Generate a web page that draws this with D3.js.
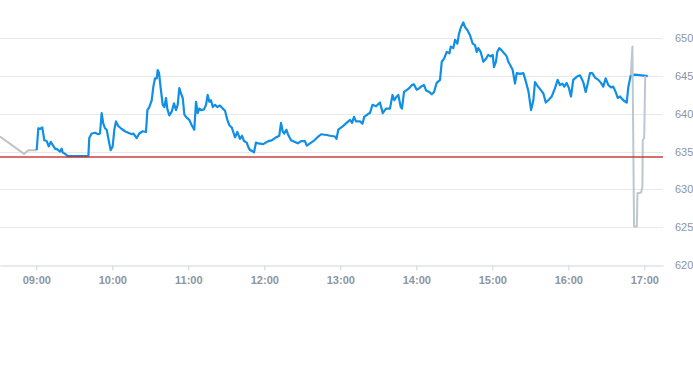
<!DOCTYPE html>
<html>
<head>
<meta charset="utf-8">
<script src="https://cdn.jsdelivr.net/npm/d3@7"></script>
<style>
html,body{margin:0;padding:0;background:#fff;}
svg{display:block;font-family:"Liberation Sans",Arial,sans-serif;}
</style>
</head>
<body>
<svg id="chart" width="693" height="365"></svg>
<script>
// minutes after 09:00 and price
const preMinutes = [-28.7, -9.7, -6.3, -1.0, 0.3];
const prePrices  = [637.0, 634.7, 635.2, 635.2, 635.2];

const mainMinutes = [0.3,1.6,2.9,4.7,5.5,6.3,8.2,9.8,11.4,12.9,14.8,16.6,18.7,20.1,20.8,22.7,24.8,41.1,41.8,43.7,46.3,48.9,50.3,51.6,52.9,54.2,55.6,56.8,58.7,60.3,61.6,62.9,64.7,67.4,70.0,72.6,75.3,76.6,79.3,81.3,84.0,86.6,87.7,89.2,91.1,92.4,93.7,95.1,95.8,96.9,98.2,99.8,101.1,102.4,103.4,105.0,106.9,108.7,110.3,111.6,112.9,114.2,115.6,116.9,118.7,120.8,122.7,124.7,126.1,127.4,128.7,130.0,132.4,134.0,135.3,136.6,137.9,139.3,141.1,142.9,145.0,147.2,149.0,150.8,152.4,154.3,155.5,156.9,158.7,160.8,162.4,164.0,166.1,167.4,168.7,170.3,171.9,173.4,175.3,179.2,183.2,185.8,188.4,191.8,193.2,194.5,195.8,197.4,198.9,201.1,203.7,206.4,209.0,212.1,213.5,216.1,219.5,222.6,224.8,229.3,231.9,235.8,237.0,238.4,241.6,244.3,246.3,247.7,249.3,250.8,252.4,255.6,257.5,258.9,262.1,263.4,265.4,268.2,271.3,273.5,276.1,279.2,281.2,282.6,284.0,285.8,287.7,288.7,290.3,293.7,296.4,298.2,300.3,302.4,304.5,306.1,307.7,310.3,312.2,314.0,316.1,318.7,320.1,321.9,324.0,326.1,327.2,329.2,330.6,332.4,333.7,335.3,337.1,338.4,340.3,342.4,344.5,346.3,347.7,348.9,350.8,352.9,355.0,356.8,358.7,360.3,361.3,362.9,363.9,365.5,367.4,370.0,371.4,372.6,374.0,376.1,377.9,379.3,381.9,384.5,385.8,388.5,390.6,392.4,393.7,395.7,398.5,400.3,402.2,404.2,406.9,409.5,411.6,413.4,415.3,416.8,418.7,420.5,422.1,423.9,426.6,429.2,431.8,433.7,435.3,437.1,438.9,441.1,443.7,445.8,447.6,449.5,451.6,453.7,455.5,457.4,459.0,460.8,463.4,466.1,467.4,469.3,472.7,478.0,482.7];
const mainPrices = [635.2,638.1,638.0,638.2,637.4,636.5,636.4,635.7,636.3,635.9,635.4,635.3,635.0,635.4,634.9,634.7,634.4,634.4,636.8,637.4,637.5,637.3,637.4,640.1,638.7,638.1,637.9,636.8,635.2,635.7,637.9,639.0,638.4,638.0,637.7,637.5,637.3,637.4,636.8,637.4,637.7,637.6,640.5,640.9,641.8,643.6,644.7,644.7,645.8,645.4,643.4,641.2,640.9,642.1,640.7,639.8,640.3,641.4,640.5,641.2,643.4,642.7,642.1,639.9,639.5,639.2,638.5,637.9,641.6,640.1,640.7,640.5,640.6,641.2,642.5,641.6,641.8,640.9,641.2,640.9,641.1,640.7,640.4,639.2,638.5,638.2,637.6,636.9,637.6,636.7,637.1,636.4,636.2,635.6,635.2,635.1,634.9,636.2,636.1,636.0,636.4,636.5,636.8,637.1,638.8,637.7,637.4,637.9,637.2,636.5,636.3,636.1,636.4,636.4,635.8,636.1,636.5,637.0,637.3,637.2,637.1,637.0,636.7,637.9,638.3,638.7,639.0,639.2,638.8,639.6,639.0,639.0,638.7,639.6,640.0,640.1,641.2,641.0,641.5,640.1,640.7,640.7,642.5,641.8,642.2,642.5,640.9,640.7,642.9,643.3,643.8,643.9,643.2,643.4,643.7,643.8,643.1,642.9,642.6,642.9,644.1,644.5,646.9,647.3,648.2,648.0,648.9,648.7,649.8,649.3,650.6,651.5,652.1,651.5,651.1,650.4,649.3,649.1,648.2,648.7,648.2,646.9,647.3,647.8,647.6,647.8,646.2,646.9,648.2,648.7,648.4,647.9,647.6,646.9,646.5,645.8,644.0,645.4,645.3,645.4,644.7,643.0,640.5,641.8,644.2,643.7,643.1,642.7,641.5,641.8,642.3,643.4,644.5,643.8,644.0,643.6,644.1,643.4,642.3,644.5,644.9,645.1,644.2,642.9,644.0,645.4,645.4,644.8,644.5,644.1,643.6,644.7,643.8,643.5,643.6,642.9,642.1,642.3,641.8,641.5,643.6,645.1,645.2,645.1,645.0];

const postMinutes = [469.3, 470.6, 471.9, 474.1, 474.6, 477.5, 478.5, 478.8, 479.9, 480.7];
const postPrices  = [645.1, 648.9, 625.1, 625.1, 629.5, 629.6, 630.4, 636.5, 636.8, 645.0];

const previousClose = 634.3;
const yTicks = [620, 625, 630, 635, 640, 645, 650];
const xTickLabels = ["09:00","10:00","11:00","12:00","13:00","14:00","15:00","16:00","17:00"];

const base = new Date(2024, 0, 2, 9, 0, 0);
const toDate = m => new Date(base.getTime() + m * 60000);
const parseHM = d3.timeParse("%H:%M");
const hm = s => { const p = parseHM(s); return new Date(2024, 0, 2, p.getHours(), p.getMinutes()); };

const svg = d3.select("#chart");
const plotW = 663, plotTop = 38.3, plotBottom = 265;

const x = d3.scaleTime()
  .domain([toDate(-28.66), toDate(494.75)])
  .range([0, plotW]);
const y = d3.scaleLinear().domain([620, 650]).range([plotBottom, plotTop]);

// grid lines
svg.append("g").selectAll("line").data(yTicks.filter(v => v !== 620)).join("line")
  .attr("x1", 0).attr("x2", plotW)
  .attr("y1", d => Math.round(y(d)) + 0.5).attr("y2", d => Math.round(y(d)) + 0.5)
  .attr("stroke", "#e6e8eb").attr("stroke-width", 1);

// x axis
const xAxis = d3.axisBottom(x)
  .tickValues(xTickLabels.map(hm))
  .tickFormat(d3.timeFormat("%H:%M"))
  .tickSize(5).tickSizeOuter(0).tickPadding(6);
const gx = svg.append("g").attr("transform", `translate(0,${Math.round(plotBottom) + 0.5})`).call(xAxis);
gx.select(".domain").attr("stroke", "#ccd6e0");
gx.selectAll(".tick line").attr("stroke", "#ccd6e0");
gx.selectAll(".tick text").attr("fill", "#8b95a3").attr("font-size", 11).attr("font-weight", "bold")
  .attr("font-family", "'Liberation Sans', Arial, sans-serif");

// y axis (right)
const yAxis = d3.axisRight(y).tickValues(yTicks).tickSize(0).tickPadding(12);
const gy = svg.append("g").attr("transform", `translate(${plotW},0)`).call(yAxis);
gy.select(".domain").remove();
gy.selectAll(".tick text").attr("fill", "#8b95a3").attr("font-size", 11)
  .attr("font-family", "'Liberation Sans', Arial, sans-serif");

const line = d3.line().x(d => x(d[0])).y(d => y(d[1]));
const zip = (ms, ps) => ms.map((m, i) => [toDate(m), ps[i]]);

svg.append("path").datum(zip(preMinutes, prePrices)).attr("d", line)
  .attr("fill", "none").attr("stroke", "#bcc4ca").attr("stroke-width", 2).attr("stroke-linejoin", "round");

svg.append("path").datum(zip(mainMinutes, mainPrices)).attr("d", line)
  .attr("fill", "none").attr("stroke", "#118fe4").attr("stroke-width", 2.2).attr("stroke-linejoin", "round");

svg.append("path").datum(zip(postMinutes, postPrices)).attr("d", line)
  .attr("fill", "none").attr("stroke", "#bcc8cf").attr("stroke-width", 2).attr("stroke-linejoin", "round");

// previous close
svg.append("line")
  .attr("x1", 0).attr("x2", plotW)
  .attr("y1", y(previousClose)).attr("y2", y(previousClose))
  .attr("stroke", "#c42a2a").attr("stroke-opacity", 0.9).attr("stroke-width", 1.4);
</script>
</body>
</html>
